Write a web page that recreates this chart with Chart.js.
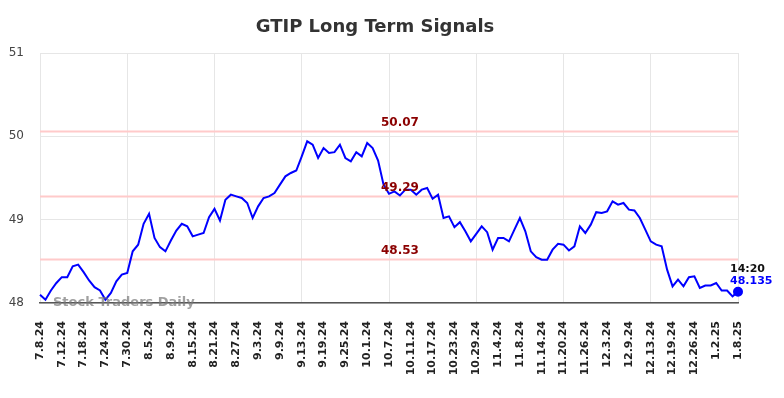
<!DOCTYPE html>
<html>
<head>
<meta charset="utf-8">
<script src="https://cdn.jsdelivr.net/npm/chart.js@4.4.1/dist/chart.umd.min.js"></script>
<style>
  html, body { margin: 0; padding: 0; background: #fff; }
  #wrap { width: 784px; height: 398px; }
</style>
</head>
<body>
<div id="wrap"><canvas id="myChart" width="784" height="398"></canvas></div>
<script>
const title = 'GTIP Long Term Signals';

// trading days, one label shown every 4th
const dates = [
  '7.8.24','7.9.24','7.10.24','7.11.24','7.12.24','7.15.24','7.16.24','7.17.24','7.18.24','7.19.24',
  '7.22.24','7.23.24','7.24.24','7.25.24','7.26.24','7.29.24','7.30.24','7.31.24',
  '8.1.24','8.2.24','8.5.24','8.6.24','8.7.24','8.8.24','8.9.24','8.12.24','8.13.24','8.14.24','8.15.24','8.16.24',
  '8.19.24','8.20.24','8.21.24','8.22.24','8.23.24','8.26.24','8.27.24','8.28.24','8.29.24','8.30.24',
  '9.3.24','9.4.24','9.5.24','9.6.24','9.9.24','9.10.24','9.11.24','9.12.24','9.13.24','9.16.24',
  '9.17.24','9.18.24','9.19.24','9.20.24','9.23.24','9.24.24','9.25.24','9.26.24','9.27.24','9.30.24',
  '10.1.24','10.2.24','10.3.24','10.4.24','10.7.24','10.8.24','10.9.24','10.10.24','10.11.24','10.14.24',
  '10.15.24','10.16.24','10.17.24','10.18.24','10.21.24','10.22.24','10.23.24','10.24.24','10.25.24','10.28.24',
  '10.29.24','10.30.24','10.31.24',
  '11.1.24','11.4.24','11.5.24','11.6.24','11.7.24','11.8.24','11.11.24','11.12.24','11.13.24','11.14.24',
  '11.15.24','11.18.24','11.19.24','11.20.24','11.21.24','11.22.24','11.25.24','11.26.24','11.27.24','11.29.24',
  '12.2.24','12.3.24','12.4.24','12.5.24','12.6.24','12.9.24','12.10.24','12.11.24','12.12.24','12.13.24',
  '12.16.24','12.17.24','12.18.24','12.19.24','12.20.24','12.23.24','12.24.24','12.26.24','12.27.24','12.30.24','12.31.24',
  '1.2.25','1.3.25','1.6.25','1.7.25','1.8.25'
];

const prices = [
  48.10, 48.04, 48.15, 48.24, 48.31, 48.31, 48.44, 48.46, 48.37, 48.27,
  48.19, 48.15, 48.04, 48.12, 48.26, 48.34, 48.36, 48.62, 48.70, 48.95,
  49.07, 48.78, 48.67, 48.62, 48.75, 48.87, 48.95, 48.92, 48.80, 48.82,
  48.84, 49.03, 49.13, 48.99, 49.24, 49.30, 49.28, 49.26, 49.20, 49.02,
  49.16, 49.26, 49.28, 49.32, 49.42, 49.52, 49.56, 49.59, 49.76, 49.94,
  49.90, 49.74, 49.86, 49.80, 49.81, 49.90, 49.74, 49.70, 49.81, 49.76,
  49.92, 49.86, 49.71, 49.42, 49.31, 49.34, 49.29, 49.36, 49.36, 49.30,
  49.36, 49.38, 49.25, 49.30, 49.02, 49.04, 48.91, 48.97, 48.86, 48.74,
  48.83, 48.92, 48.85, 48.64, 48.78, 48.78, 48.74, 48.88, 49.02, 48.86,
  48.62, 48.55, 48.52, 48.52, 48.64, 48.71, 48.70, 48.63, 48.68, 48.92,
  48.84, 48.94, 49.09, 49.08, 49.10, 49.22, 49.18, 49.20, 49.12, 49.11,
  49.02, 48.88, 48.74, 48.70, 48.68, 48.40, 48.20, 48.28, 48.20, 48.31,
  48.32, 48.18, 48.21, 48.21, 48.24, 48.15, 48.15, 48.08, 48.135
];

const levels = [50.07, 49.29, 48.53];
const yTicks = [48, 49, 50, 51];
const lastTime = '14:20';
const lastLabel = '48.135';

Chart.defaults.font.family = "'DejaVu Sans', sans-serif";

// reference lines, title, watermark and last price tag
const extras = {
  id: 'extras',
  beforeDatasetsDraw(chart) {
    const { ctx, chartArea, scales } = chart;
    ctx.save();
    ctx.strokeStyle = '#ffcaca';
    ctx.lineWidth = 2;
    levels.forEach(v => {
      const y = Math.round(scales.y.getPixelForValue(v)) + 0.5;
      ctx.beginPath();
      ctx.moveTo(chartArea.left, y);
      ctx.lineTo(chartArea.right, y);
      ctx.stroke();
    });
    ctx.restore();
  },
  afterDatasetsDraw(chart) {
    const { ctx, chartArea, scales } = chart;
    ctx.save();

    ctx.fillStyle = '#333';
    ctx.font = 'bold 18px "DejaVu Sans"';
    ctx.textAlign = 'center';
    ctx.textBaseline = 'alphabetic';
    ctx.fillText(title, 375, 32);

    ctx.fillStyle = '#8b0000';
    ctx.font = 'bold 12px "DejaVu Sans"';
    ctx.textBaseline = 'middle';
    const lx = scales.x.getPixelForValue(66);
    levels.forEach(v => {
      ctx.fillText(v.toFixed(2), lx, scales.y.getPixelForValue(v) - 8);
    });

    ctx.fillStyle = 'rgba(120,120,120,0.7)';
    ctx.font = 'bold 13px "DejaVu Sans"';
    ctx.textAlign = 'left';
    ctx.fillText('Stock Traders Daily', 53, chartArea.bottom);

    const n = prices.length - 1;
    const px = scales.x.getPixelForValue(n);
    const py = scales.y.getPixelForValue(prices[n]);
    ctx.font = 'bold 11px "DejaVu Sans"';
    ctx.fillStyle = '#111';
    ctx.fillText(lastTime, px - 8, py - 23);
    ctx.fillStyle = '#0000ff';
    ctx.fillText(lastLabel, px - 8, py - 11);
    ctx.restore();
  }
};

const ctx = document.getElementById('myChart').getContext('2d');
new Chart(ctx, {
  type: 'line',
  data: {
    labels: dates,
    datasets: [{
      data: prices,
      borderColor: '#0000ff',
      backgroundColor: '#0000ff',
      borderWidth: 2,
      tension: 0,
      pointRadius: prices.map((p, i) => i === prices.length - 1 ? 4 : 0),
      pointHoverRadius: 0
    }]
  },
  options: {
    responsive: false,
    devicePixelRatio: 1,
    animation: false,
    layout: { padding: { top: 53, right: 46, left: 0, bottom: 0 } },
    plugins: {
      legend: { display: false },
      title: { display: false },
      tooltip: { enabled: false }
    },
    scales: {
      x: {
        afterFit(scale) { scale.height = 95; },
        border: { display: true, color: '#555', width: 1.5 },
        grid: {
          color: c => (c.index % 4 === 0 ? '#e6e6e6' : 'rgba(0,0,0,0)'),
          drawTicks: false
        },
        ticks: {
          autoSkip: false,
          maxRotation: 90,
          minRotation: 90,
          padding: 18,
          color: '#222',
          font: { size: 11, weight: 'bold' },
          callback: (v, i) => (i % 4 === 0 ? dates[i] : null)
        }
      },
      y: {
        min: 48,
        max: 51,
        afterFit(scale) { scale.width = 40; },
        afterBuildTicks(scale) { scale.ticks = yTicks.map(v => ({ value: v })); },
        border: { display: false },
        grid: { color: '#e6e6e6', drawTicks: false },
        ticks: {
          padding: 16,
          color: '#444',
          font: { size: 12 }
        }
      }
    }
  },
  plugins: [extras]
});
</script>
</body>
</html>
